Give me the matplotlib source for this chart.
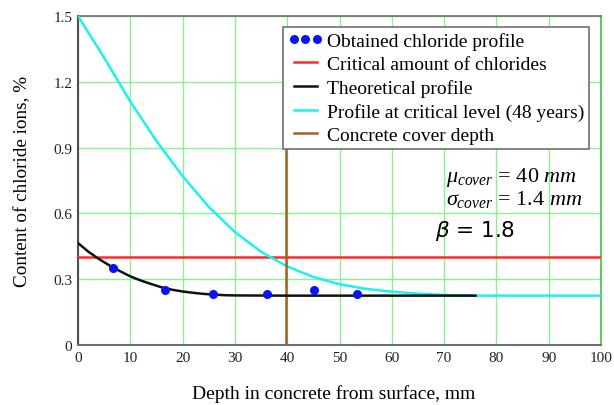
import matplotlib
matplotlib.use("Agg")
import matplotlib.pyplot as plt

# ---- data ----
obs_depth = [6.6, 16.7, 25.8, 36.2, 45.2, 53.3]
obs_cl = [0.350, 0.251, 0.232, 0.232, 0.252, 0.232]

theo_depth = [0, 2, 4, 6, 8, 10, 12, 14, 16, 18, 20, 22, 24, 26, 28, 30, 40, 50, 60, 70, 76]
theo_cl = [0.465, 0.425, 0.392, 0.363, 0.337, 0.313, 0.294, 0.278, 0.263, 0.252, 0.244, 0.238,
           0.233, 0.230, 0.227, 0.226, 0.225, 0.225, 0.225, 0.225, 0.225]

crit_depth = [0, 5, 10, 15, 20, 25, 30, 35, 40, 45, 50, 55, 60, 65, 70, 76, 100]
crit_cl = [1.5, 1.31, 1.11, 0.93, 0.77, 0.63, 0.515, 0.425, 0.358, 0.31, 0.277, 0.256, 0.243,
           0.234, 0.228, 0.225, 0.225]

critical_level = 0.40
cover_depth = 39.7
cover_line_top = 1.2

xticks = [0, 10, 20, 30, 40, 50, 60, 70, 80, 90, 100]
yticks = [0, 0.3, 0.6, 0.9, 1.2, 1.5]
ytick_labels = ["0", "0.3", "0.6", "0.9", "1.2", "1.5"]

labels = ["Obtained chloride profile", "Critical amount of chlorides", "Theoretical profile",
          "Profile at critical level (48 years)", "Concrete cover depth"]

plt.rcParams["font.family"] = ["Liberation Serif", "DejaVu Serif"]
plt.rcParams["mathtext.fontset"] = "custom"
plt.rcParams["mathtext.rm"] = "Liberation Serif"
plt.rcParams["mathtext.it"] = "Liberation Serif:italic"
plt.rcParams["mathtext.bf"] = "Liberation Serif:bold"

fig = plt.figure(figsize=(6.14, 4.06), dpi=100)
ax = fig.add_axes([78 / 614, 60 / 406, 523 / 614, 329 / 406])

grid_c = "#8cf08c"
ax.set_xlim(0, 100)
ax.set_ylim(0, 1.5)
ax.set_xticks(xticks)
ax.set_yticks(yticks)
ax.set_yticklabels(ytick_labels)
ax.grid(True, color=grid_c, linewidth=1.0)
ax.set_axisbelow(True)
ax.tick_params(length=0, labelsize=11, pad=4, colors="#222222")

h_obs, = ax.plot(obs_depth, obs_cl, "o", color="#0a14f0", markersize=5.5, zorder=5, label=labels[0])
h_red = ax.axhline(critical_level, color="#ff2a2a", linewidth=1.8, zorder=3, label=labels[1])
h_theo, = ax.plot(theo_depth, theo_cl, color="#111111", linewidth=1.8, zorder=4, label=labels[2])
h_cy, = ax.plot(crit_depth, crit_cl, color="#1ef0f0", linewidth=1.8, zorder=3, label=labels[3])
h_br, = ax.plot([cover_depth, cover_depth], [0, cover_line_top], color="#a0622d", linewidth=1.8,
                zorder=3, label=labels[4])

ax.spines["left"].set_color("#505050")
ax.spines["left"].set_linewidth(1.5)
ax.spines["bottom"].set_color("#707070")
ax.spines["bottom"].set_linewidth(1.5)
ax.spines["top"].set_color("#707070")
ax.spines["top"].set_linewidth(1.2)
ax.spines["right"].set_color("#40c040")
ax.spines["right"].set_linewidth(1.2)

ax.set_xlabel("Depth in concrete from surface, mm", fontsize=14)
ax.xaxis.set_label_coords((334 - 78) / 523, -0.118)
ax.set_ylabel("Content of chloride ions, %", fontsize=13.8, labelpad=16)

leg = ax.legend(handles=[h_obs, h_red, h_theo, h_cy, h_br], loc="upper left",
                bbox_to_anchor=(0.392, 0.967), borderaxespad=0, fontsize=14,
                numpoints=3, fancybox=False, framealpha=1, edgecolor="#707070",
                borderpad=0.25, labelspacing=0.3, handlelength=1.8, handletextpad=0.2)
leg.get_frame().set_linewidth(1.2)
leg.set_zorder(10)

ax.text(70.4, 0.748, r"$\mu_{cover}$ = 40 $mm$", fontsize=16, va="baseline", ha="left",
        math_fontfamily="custom", zorder=6)
ax.text(70.4, 0.643, r"$\sigma_{cover}$ = 1.4 $mm$", fontsize=16, va="baseline", ha="left",
        math_fontfamily="custom", zorder=6)
ax.text(68.3, 0.497, r"$\beta$ = 1.8", fontsize=15.5, va="baseline", ha="left",
        family="DejaVu Sans", math_fontfamily="dejavusans", zorder=6)

fig.savefig("out.png", dpi=100)
